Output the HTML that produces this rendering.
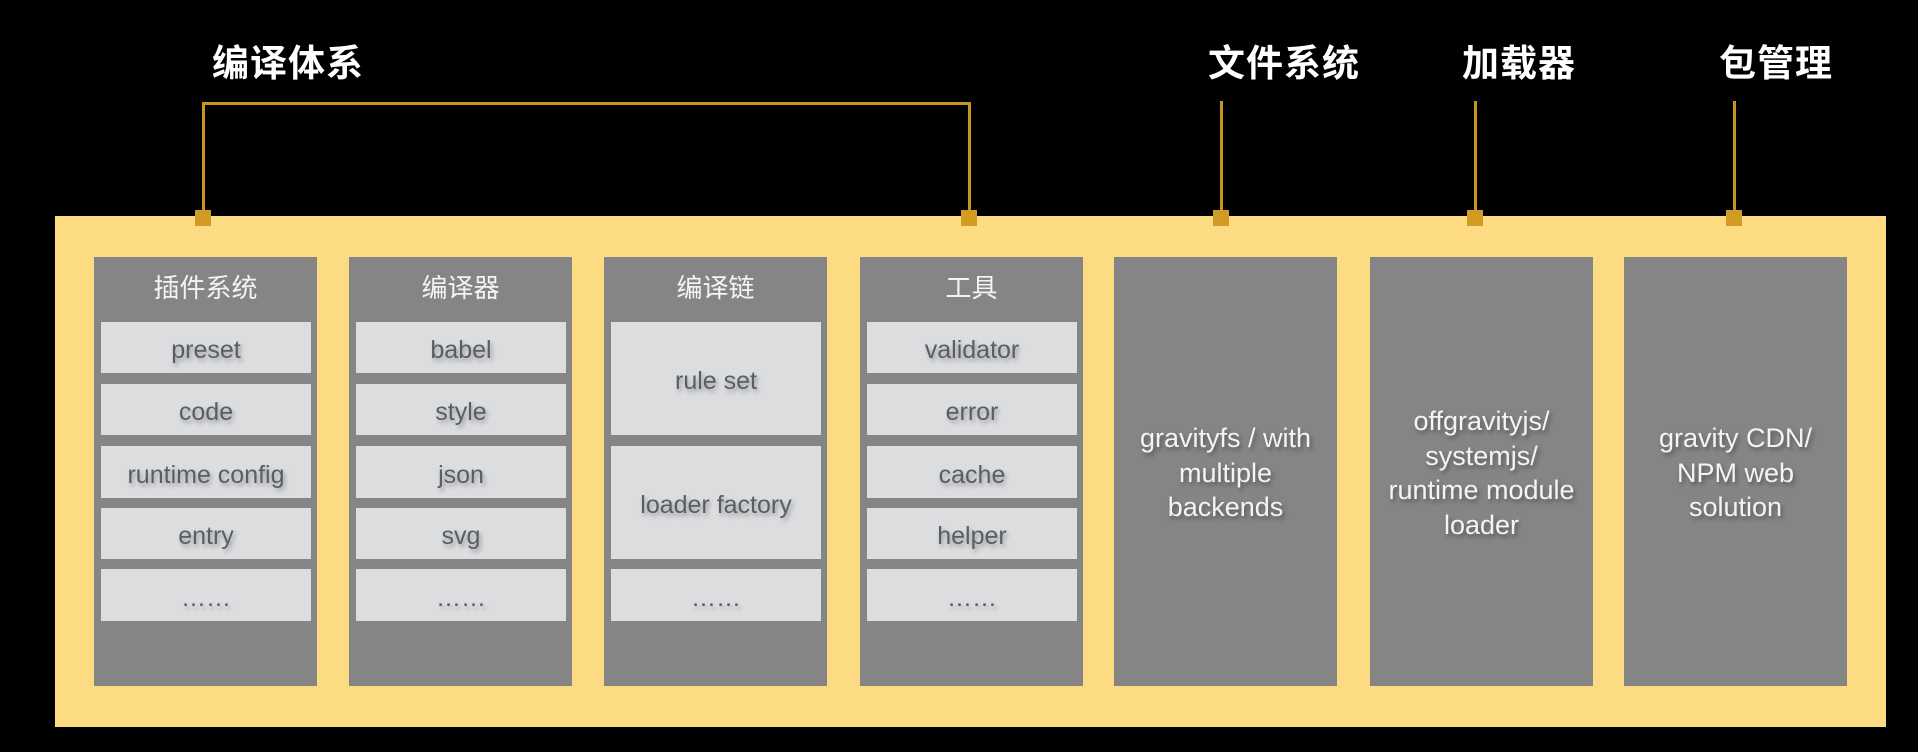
<!DOCTYPE html>
<html><head><meta charset="utf-8"><style>
body{margin:0;width:1918px;height:752px;background:#000;position:relative;overflow:hidden;font-family:"Liberation Sans","Noto Sans CJK SC",sans-serif}
.a{position:absolute}
.h{color:#fff;font-weight:bold;font-size:37px;letter-spacing:1px;top:42px;line-height:44px}
.ln{background:#c8961e}
.sq{background:#d29b22;width:16px;height:16px;top:210px}
.col{background:#858585;top:257px;width:223px;height:429px}
.t{color:#f4f4f4;font-size:26px;text-align:center;width:100%;top:15px;line-height:32px}
.s{background:#dcdddf;left:7px;width:210px;display:flex;align-items:center;justify-content:center;color:#5a5e64;font-size:25px;padding-top:6px;box-sizing:border-box;text-shadow:2px 3px 4px rgba(0,0,0,.3)}
.big{color:#f4f4f4;font-size:27px;line-height:34.5px;text-align:center;width:100%;text-shadow:2px 3px 4px rgba(0,0,0,.35)}
</style></head><body>
<div class="a h" style="left:212px">编译体系</div>
<div class="a h" style="left:1208px">文件系统</div>
<div class="a h" style="left:1462px">加载器</div>
<div class="a h" style="left:1719px">包管理</div>
<div class="a ln" style="left:202px;top:102px;width:769px;height:3px"></div>
<div class="a ln" style="left:202px;top:102px;width:3px;height:112px"></div>
<div class="a ln" style="left:968px;top:102px;width:3px;height:112px"></div>
<div class="a ln" style="left:1220px;top:101px;width:3px;height:113px"></div>
<div class="a ln" style="left:1474px;top:101px;width:3px;height:113px"></div>
<div class="a ln" style="left:1733px;top:101px;width:3px;height:113px"></div>
<div class="a" style="left:55px;top:216px;width:1831px;height:511px;background:#fddb83"></div>
<div class="a sq" style="left:195px"></div>
<div class="a sq" style="left:961px"></div>
<div class="a sq" style="left:1213px"></div>
<div class="a sq" style="left:1467px"></div>
<div class="a sq" style="left:1726px"></div>

<div class="a col" style="left:94px"><div class="a t">插件系统</div>
<div class="a s" style="top:65px;height:51px">preset</div>
<div class="a s" style="top:127px;height:51px">code</div>
<div class="a s" style="top:189px;height:52px">runtime config</div>
<div class="a s" style="top:251px;height:51px">entry</div>
<div class="a s" style="top:312px;height:52px">……</div></div>

<div class="a col" style="left:349px"><div class="a t">编译器</div>
<div class="a s" style="top:65px;height:51px">babel</div>
<div class="a s" style="top:127px;height:51px">style</div>
<div class="a s" style="top:189px;height:52px">json</div>
<div class="a s" style="top:251px;height:51px">svg</div>
<div class="a s" style="top:312px;height:52px">……</div></div>

<div class="a col" style="left:604px"><div class="a t">编译链</div>
<div class="a s" style="top:65px;height:113px">rule set</div>
<div class="a s" style="top:189px;height:113px">loader factory</div>
<div class="a s" style="top:312px;height:52px">……</div></div>

<div class="a col" style="left:860px"><div class="a t">工具</div>
<div class="a s" style="top:65px;height:51px">validator</div>
<div class="a s" style="top:127px;height:51px">error</div>
<div class="a s" style="top:189px;height:52px">cache</div>
<div class="a s" style="top:251px;height:51px">helper</div>
<div class="a s" style="top:312px;height:52px">……</div></div>

<div class="a col" style="left:1114px"><div class="a big" style="top:164px">gravityfs / with<br>multiple<br>backends</div></div>
<div class="a col" style="left:1370px"><div class="a big" style="top:147px">offgravityjs/<br>systemjs/<br>runtime module<br>loader</div></div>
<div class="a col" style="left:1624px"><div class="a big" style="top:164px">gravity CDN/<br>NPM web<br>solution</div></div>
</body></html>
